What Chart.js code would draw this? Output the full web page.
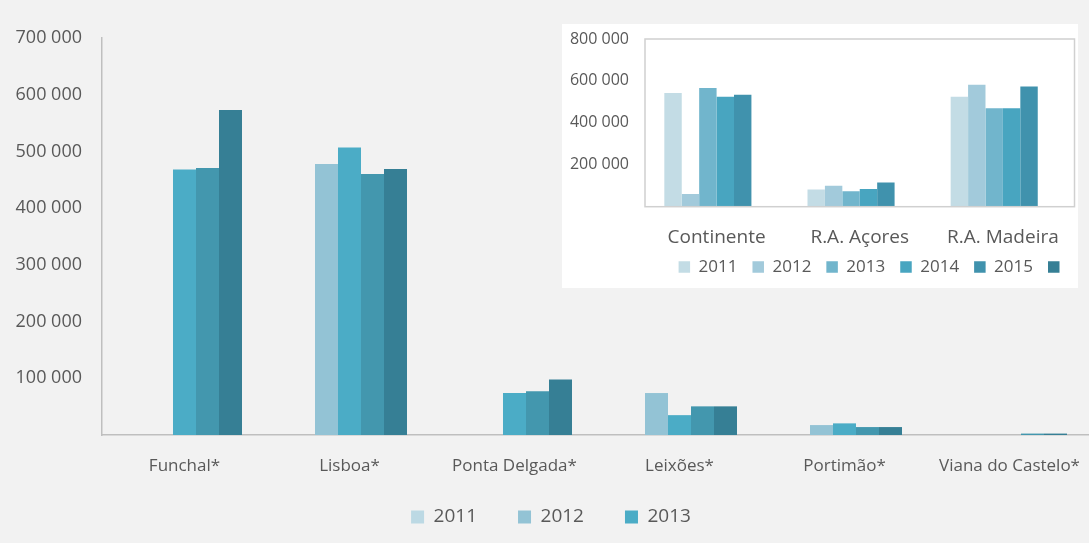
<!DOCTYPE html>
<html lang="pt">
<head>
<meta charset="utf-8">
<title>Passageiros por porto</title>
<script src="https://cdn.jsdelivr.net/npm/chart.js@4.4.1/dist/chart.umd.min.js"></script>
<style>
  html, body { margin: 0; padding: 0; background: #f2f2f2; overflow: hidden; }
  #wrap { position: relative; width: 1089px; height: 543px; overflow: hidden; }
  #main { position: absolute; left: 0; top: 0; }
  #regioes { position: absolute; left: 562px; top: 24px; background: #ffffff; }
</style>
</head>
<body>
<div id="wrap">
  <canvas id="main" width="1095" height="543"></canvas>
  <canvas id="regioes" width="516" height="264"></canvas>
</div>
<script>
// anos
const anos = ['2011', '2012', '2013', '2014', '2015'];

// portos (gráfico principal)
const portos = ['Funchal*', 'Lisboa*', 'Ponta Delgada*', 'Leixões*', 'Portimão*', 'Viana do Castelo*'];
const porto2011 = [null, null, null, null, null, null];
const porto2012 = [null, 478000, null, 74000, 17500, null];
const porto2013 = [468000, 507000, 74000, 35000, 20500, null];
const porto2014 = [471000, 460000, 77000, 50500, 14000, 2500];
const porto2015 = [573000, 469000, 98000, 50500, 14000, 2500];
const coresPortos = ['#bcd9e4', '#93c3d5', '#4bacc6', '#4397ae', '#367f95'];

// regiões (gráfico pequeno)
const regioes = ['Continente', 'R.A. Açores', 'R.A. Madeira'];
const anosRegioes = ['2011', '2012', '2013', '2014', '2015', ''];
const regiao2011 = [542000, 82000, 525000];
const regiao2012 = [60000, 100000, 582000];
const regiao2013 = [566000, 74000, 470000];
const regiao2014 = [525000, 84000, 470000];
const regiao2015 = [534000, 116000, 574000];
const regiao2016 = [null, null, null];
const coresRegioes = ['#c3dce5', '#a2cadb', '#71b5cc', '#48a5c0', '#4092ad', '#367f95'];

const cinza = '#595959';
const eixo = '#bfbfbf';

// 700 000 com espaço nos milhares
function milhares(v) {
    if (v === 0) return '';
    return String(v).replace(/\B(?=(\d{3})+(?!\d))/g, ' ');
}

// legenda com altura fixa; desvio empurra a legenda para a direita
function legendaFixa(h, desvio) {
    return {
        id: 'legendaFixa',
        beforeInit(chart) {
            const fitOriginal = chart.legend.fit;
            chart.legend.fit = function fit() {
                fitOriginal.bind(chart.legend)();
                this.height = h;
            };
        },
        afterLayout(chart) {
            chart.legend.left += desvio;
            chart.legend.right += desvio;
        }
    };
}

// eixo x: altura fixa, sem folga lateral para os rótulos
function eixoX(altura) {
    return scale => {
        scale.height = altura;
        scale.paddingLeft = 0;
        scale.paddingRight = 0;
    };
}

// não cortar os rótulos do eixo x à altura da escala
function semCorte(scale) {
    scale._computeLabelArea = () => undefined;
}

// moldura da área do gráfico pequeno
const moldura = {
    id: 'moldura',
    afterDraw(chart) {
        const { ctx, chartArea: a } = chart;
        ctx.save();
        ctx.strokeStyle = '#d0d0d0';
        ctx.lineWidth = 1.5;
        ctx.strokeRect(a.left, a.top, a.right - a.left, a.bottom - a.top);
        ctx.restore();
    }
};

Chart.defaults.font.family = "'Open Sans', sans-serif";
Chart.defaults.color = cinza;

const seriesPortos = [porto2011, porto2012, porto2013, porto2014, porto2015];

new Chart(document.getElementById('main').getContext('2d'), {
    type: 'bar',
    data: {
        labels: portos,
        datasets: anos.map((ano, i) => ({
            label: ano,
            data: seriesPortos[i],
            backgroundColor: coresPortos[i],
            borderWidth: 0,
            categoryPercentage: 0.697,
            barPercentage: 1.0
        }))
    },
    options: {
        responsive: false,
        animation: false,
        layout: { padding: { top: 38, right: 3, left: 0, bottom: 0 } },
        plugins: {
            legend: {
                position: 'bottom',
                labels: {
                    boxWidth: 13,
                    boxHeight: 13,
                    padding: 41,
                    font: { size: 19 },
                    color: cinza,
                    // só cabem os três primeiros anos
                    filter: item => item.datasetIndex < 3
                }
            },
            tooltip: { enabled: false }
        },
        scales: {
            x: {
                grid: { display: false, drawTicks: false },
                border: { display: true, color: eixo, width: 1.5 },
                ticks: { font: { size: 17 }, color: cinza, padding: 21, maxRotation: 0, autoSkip: false },
                afterFit: eixoX(31.5),
                afterUpdate: semCorte
            },
            y: {
                min: 0,
                max: 700000,
                grid: { display: false, drawTicks: false },
                border: { display: true, color: eixo, width: 1.5 },
                ticks: { stepSize: 100000, font: { size: 18 }, color: cinza, padding: 20, callback: milhares },
                afterFit(scale) { scale.width = 102; }
            }
        }
    },
    plugins: [legendaFixa(76.5, 5)]
});

const seriesRegioes = [regiao2011, regiao2012, regiao2013, regiao2014, regiao2015, regiao2016];

new Chart(document.getElementById('regioes').getContext('2d'), {
    type: 'bar',
    data: {
        labels: regioes,
        datasets: anosRegioes.map((ano, i) => ({
            label: ano,
            data: seriesRegioes[i],
            backgroundColor: coresRegioes[i],
            borderWidth: 0,
            categoryPercentage: 0.73,
            barPercentage: 1.0
        }))
    },
    options: {
        responsive: false,
        animation: false,
        layout: { padding: { top: 15, right: 3.5, left: 0, bottom: 0 } },
        plugins: {
            legend: {
                position: 'bottom',
                align: 'end',
                labels: {
                    boxWidth: 11.5,
                    boxHeight: 11.5,
                    padding: 15,
                    font: { size: 17 },
                    color: cinza
                }
            },
            tooltip: { enabled: false }
        },
        scales: {
            x: {
                grid: { display: false, drawTicks: false },
                border: { display: false },
                ticks: { font: { size: 19 }, color: cinza, padding: 19.5, maxRotation: 0, autoSkip: false },
                afterFit: eixoX(36.8),
                afterUpdate: semCorte
            },
            y: {
                min: 0,
                max: 800000,
                grid: { display: false, drawTicks: false },
                border: { display: false },
                ticks: { stepSize: 200000, font: { size: 16 }, color: cinza, padding: 16, callback: milhares },
                afterFit(scale) {
                    scale.width = 83;
                    scale.paddingTop = 0;
                }
            }
        }
    },
    plugins: [legendaFixa(44.5, 8.5), moldura]
});
</script>
</body>
</html>
